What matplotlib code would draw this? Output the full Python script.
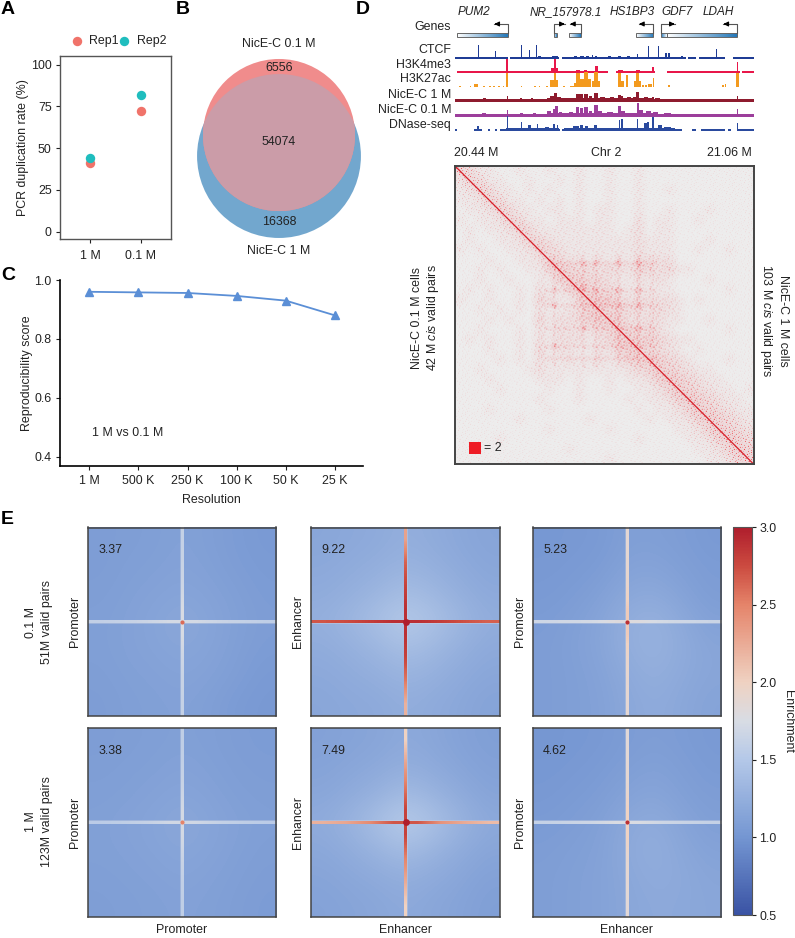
import numpy as np
import matplotlib
matplotlib.use("Agg")
import matplotlib.pyplot as plt
from matplotlib.colors import LinearSegmentedColormap, Normalize
from matplotlib.patches import Circle, Rectangle

plt.rcParams['font.family'] = ['Liberation Sans', 'DejaVu Sans']
plt.rcParams['mathtext.fontset'] = 'custom'
plt.rcParams['mathtext.it'] = 'Liberation Sans:italic'
plt.rcParams['mathtext.rm'] = 'Liberation Sans'

W, H = 795, 938
FS = 8.9
TXT = '#222222'

# panel A
dup_labels = ['1 M', '0.1 M']
rep1 = [41, 72]
rep2 = [44, 82]

# panel B
only_01m = 6556
shared = 54074
only_1m = 16368

# panel C
resolutions = ['1 M', '500 K', '250 K', '100 K', '50 K', '25 K']
repro_score = [0.960, 0.958, 0.956, 0.946, 0.930, 0.880]

# panel D, gene models, kb from 20.44 M
gene_names = ['PUM2', 'NR_157978.1', 'HS1BP3', 'GDF7', 'LDAH']
gene_start = [4, 205, 236, 374, 426, 438]
gene_end = [110, 211, 260, 410, 438, 585]
gene_tss = [110, 205, 260, 410, 426, 585]
gene_tip = [81, 227, 238, 381, 455, 556]
gene_rev = [False, False, False, False, True, False]

# tracks: baseline segments, then bars as position, width, height
ctcf_base = [(0, 110), (113, 215), (222, 478), (483, 500), (505, 560), (575, 620)]
ctcf_pos = [48, 84, 137, 154, 169, 207, 262, 284, 292, 378, 401, 421, 436, 443, 542, 340, 360, 320, 470, 175, 250, 275]
ctcf_w = [2, 2.5, 2.5, 2.5, 2.5, 12, 8, 3, 3, 3, 2.5, 2.5, 4, 4, 3, 6, 6, 6, 6, 6, 6, 6]
ctcf_h = [14, 8, 14, 9, 14, 3, 3, 4, 3, 5, 13, 13, 6, 6, 10, 2.5, 2.5, 2.5, 2.5, 2.5, 2.5, 2.5]

k4_base = [(3, 317), (334, 414), (440, 590), (594, 620)]
k4_pos = [108, 207, 254, 270, 292, 342, 378, 410, 585, 205]
k4_w = [4, 5, 8, 8, 6, 10, 8, 4, 3, 14]
k4_h = [14, 14, 3, 3, 7, 3, 3, 6, 11, 5]

k27_pos = [108, 207, 204, 254, 271, 268, 261, 292, 292, 340, 343, 356, 378, 378, 410, 404, 585,
           43, 10, 32, 60, 72, 80, 90, 100, 137, 165, 175, 190, 225, 240, 245, 390, 395, 443, 555, 560]
k27_w = [4, 5, 16, 9, 10, 26, 30, 7, 18, 7, 12, 5, 5, 14, 2, 9, 5,
         8, 3, 3, 4, 3, 4, 4, 4, 3, 3, 3, 4, 3, 4, 4, 4, 4, 3, 4, 3]
k27_h = [14, 14, 7, 14, 15, 8, 4, 15, 6, 14, 6, 12, 14, 6, 9, 3, 14,
         3.5, 1.5, 1.5, 1.5, 1.5, 1.5, 1.5, 1.5, 1.5, 1.5, 1.5, 1.5, 1.5, 1.5, 1.5, 2, 2, 2, 2, 3]

nice1_pos = [245, 355, 60, 108, 137, 160, 200, 207, 215, 225, 240, 254, 262, 271, 280, 292, 305, 325,
             340, 345, 360, 372, 378, 395, 410, 420, 585]
nice1_w = [110, 110, 6, 3, 4, 4, 8, 6, 8, 6, 6, 8, 6, 8, 6, 8, 10, 10, 6, 6, 10, 6, 5, 8, 4, 10, 3]
nice1_h = [3.5, 3.5, 3.5, 6, 4, 4, 6, 9, 4.5, 4, 4, 8, 8, 8, 6, 9, 5, 5, 7, 6, 5, 5, 10, 5, 5, 4, 5.5]

nice01_pos = [245, 355, 60, 108, 137, 165, 195, 205, 210, 218, 240, 254, 262, 271, 280, 292, 300, 320,
              340, 348, 378, 385, 400, 415, 440, 585]
nice01_w = [110, 110, 8, 3, 6, 6, 8, 5, 5, 8, 8, 7, 6, 8, 6, 7, 8, 12, 6, 8, 4, 8, 10, 10, 16, 3]
nice01_h = [4, 4, 3.5, 7, 3.5, 3.5, 6, 8, 11, 5, 4.5, 10, 9, 10, 6, 12, 6, 5, 11, 6, 14, 7, 6, 4.5, 3.5, 8]

dnase_base = [(0, 3), (38, 55), (68, 72), (82, 86), (92, 218), (222, 470), (490, 500), (510, 560), (566, 572), (585, 620)]
dnase_pos = [160, 340, 48, 108, 137, 154, 170, 190, 205, 212, 250, 262, 272, 290, 340, 345, 378, 395, 400, 410, 425, 440, 585]
dnase_w = [110, 230, 4, 2, 3, 5, 3, 8, 3, 3, 12, 6, 8, 6, 3, 4, 3, 8, 4, 3, 8, 14, 2]
dnase_h = [2.5, 3, 5, 15, 9, 6, 7, 4, 7, 6, 5, 6, 5, 6, 11, 12, 12, 8, 9, 14, 6, 4, 8]

# panel D contact map, red density per block, top left to bottom right
contact_rows = [
    "431100100100100100100000000000",
    "243110010010100100100000000000",
    "124311010100100100100100000000",
    "112431101010100100100000000000",
    "011243110110101100100100010000",
    "101124311011101100201100100000",
    "010112431111111101201100000000",
    "010011243211111111211100010000",
    "101001124321111111211100100100",
    "000100112432212121322200000000",
    "001010011454332322432311000000",
    "001001001145433211212100010000",
    "010100102114543321211100000100",
    "100100103211455532322210100000",
    "001010102112355443323210000000",
    "000101003122345542222110010000",
    "001000102122223454332100000100",
    "010100102122212355443211000000",
    "000100103122112245533210100000",
    "000010102112112124454321000100",
    "001000012111111112345432110000",
    "000100001110100101124543211000",
    "000010000100100100112454321101",
    "000000001000100001011245432110",
    "000100000100000000101124543211",
    "000000100000010000010112454321",
    "000000000100000100000011245432",
    "000010000000000000100001124543",
    "000000000001000000000000112454",
    "000000000000000100000000011244",
]
# grain of the contact map, laid over the density blocks
speckle_tile = [
    "0030000700002000060",
    "5000010000800000300",
    "0002000040000070001",
    "0600009000300100000",
    "0000300000006000040",
    "2000000510000200800",
    "0080000000090000003",
    "0000460000000300000",
    "3000000020700000500",
    "0000900000000040002",
    "0100000380000600000",
    "0000020000000009000",
    "7000000006000100030",
    "0005000100300000000",
    "0000000800000720000",
    "0300600000050000006",
    "0000000040000000100",
    "0009000200008030000",
    "4000100000600000200",
]
anchors_x = [0.335, 0.43, 0.47, 0.55, 0.615, 0.66]
anchors_y = [0.33, 0.42, 0.47, 0.55, 0.61, 0.65]
hot_x = [0.335, 0.335, 0.43, 0.43, 0.47, 0.47, 0.55, 0.55, 0.615, 0.615, 0.615, 0.43, 0.335, 0.55, 0.615]
hot_y = [0.42, 0.47, 0.33, 0.41, 0.33, 0.42, 0.33, 0.42, 0.33, 0.42, 0.47, 0.55, 0.61, 0.47, 0.55]

# panel E pileups, background enrichment on a coarse grid
bg_p01_pp = [[1.08, 1.09, 1.10, 1.12, 1.10, 1.07, 1.05],
             [1.08, 1.10, 1.11, 1.13, 1.11, 1.08, 1.06],
             [1.09, 1.11, 1.13, 1.15, 1.13, 1.10, 1.07],
             [1.10, 1.12, 1.15, 1.18, 1.15, 1.11, 1.08],
             [1.10, 1.12, 1.14, 1.16, 1.14, 1.10, 1.07],
             [1.09, 1.11, 1.12, 1.14, 1.12, 1.09, 1.05],
             [1.08, 1.10, 1.11, 1.12, 1.10, 1.06, 1.04]]
bg_p01_ee = [[1.17, 1.19, 1.21, 1.25, 1.22, 1.18, 1.15],
             [1.19, 1.22, 1.25, 1.30, 1.26, 1.21, 1.17],
             [1.22, 1.26, 1.32, 1.40, 1.34, 1.26, 1.20],
             [1.26, 1.33, 1.42, 1.52, 1.44, 1.33, 1.24],
             [1.22, 1.26, 1.32, 1.40, 1.34, 1.26, 1.20],
             [1.19, 1.22, 1.25, 1.30, 1.26, 1.21, 1.17],
             [1.17, 1.19, 1.20, 1.24, 1.21, 1.18, 1.14]]
bg_p01_pe = [[1.03, 1.04, 1.05, 1.10, 1.10, 1.08, 1.05],
             [1.04, 1.05, 1.07, 1.13, 1.14, 1.10, 1.07],
             [1.05, 1.07, 1.11, 1.18, 1.20, 1.14, 1.08],
             [1.07, 1.10, 1.15, 1.24, 1.28, 1.20, 1.12],
             [1.08, 1.11, 1.15, 1.24, 1.28, 1.22, 1.16],
             [1.08, 1.10, 1.13, 1.20, 1.25, 1.20, 1.16],
             [1.08, 1.10, 1.12, 1.18, 1.22, 1.18, 1.14]]
bg_p1_pp = [[1.08, 1.09, 1.10, 1.11, 1.10, 1.08, 1.07],
            [1.09, 1.10, 1.11, 1.13, 1.11, 1.09, 1.08],
            [1.10, 1.11, 1.13, 1.15, 1.13, 1.10, 1.09],
            [1.11, 1.13, 1.15, 1.18, 1.15, 1.12, 1.10],
            [1.11, 1.12, 1.14, 1.16, 1.14, 1.11, 1.09],
            [1.10, 1.11, 1.12, 1.14, 1.12, 1.10, 1.08],
            [1.09, 1.10, 1.11, 1.12, 1.11, 1.09, 1.07]]
bg_p1_ee = [[1.12, 1.14, 1.16, 1.20, 1.17, 1.13, 1.10],
            [1.14, 1.17, 1.20, 1.25, 1.21, 1.16, 1.12],
            [1.17, 1.22, 1.28, 1.38, 1.30, 1.22, 1.15],
            [1.22, 1.30, 1.42, 1.54, 1.44, 1.30, 1.20],
            [1.18, 1.23, 1.30, 1.38, 1.30, 1.22, 1.16],
            [1.15, 1.18, 1.21, 1.25, 1.21, 1.17, 1.12],
            [1.13, 1.15, 1.17, 1.20, 1.17, 1.14, 1.10]]
bg_p1_pe = [[1.02, 1.03, 1.04, 1.07, 1.09, 1.07, 1.05],
            [1.03, 1.04, 1.06, 1.09, 1.12, 1.09, 1.06],
            [1.04, 1.06, 1.08, 1.13, 1.16, 1.11, 1.08],
            [1.06, 1.08, 1.11, 1.18, 1.22, 1.15, 1.10],
            [1.08, 1.10, 1.12, 1.20, 1.24, 1.18, 1.13],
            [1.09, 1.11, 1.13, 1.18, 1.22, 1.20, 1.16],
            [1.09, 1.11, 1.13, 1.17, 1.20, 1.19, 1.17]]
pile_bg = [bg_p01_pp, bg_p01_ee, bg_p01_pe, bg_p1_pp, bg_p1_ee, bg_p1_pe]
pile_score = ['3.37', '9.22', '5.23', '3.38', '7.49', '4.62']
pile_ylabel = ['Promoter', 'Enhancer', 'Promoter', 'Promoter', 'Enhancer', 'Promoter']
pile_xlabel = ['Promoter', 'Enhancer', 'Enhancer']
# enrichment along the arms: left to right, and top to bottom
arm_h = [[1.60, 1.62, 1.66, 1.72, 1.72, 1.66, 1.62, 1.58],
         [2.70, 2.75, 2.82, 2.90, 2.90, 2.82, 2.72, 2.65],
         [1.68, 1.70, 1.72, 1.80, 1.80, 1.72, 1.68, 1.66],
         [1.55, 1.58, 1.62, 1.70, 1.70, 1.62, 1.58, 1.55],
         [2.20, 2.28, 2.45, 2.70, 2.70, 2.40, 2.25, 2.15],
         [1.62, 1.65, 1.68, 1.76, 1.76, 1.68, 1.65, 1.62]]
arm_v = [[1.62, 1.64, 1.68, 1.75, 1.75, 1.68, 1.64, 1.62],
         [2.30, 2.65, 2.80, 2.90, 2.90, 2.80, 2.55, 2.20],
         [1.88, 1.90, 1.94, 2.05, 2.05, 1.94, 1.90, 1.88],
         [1.58, 1.60, 1.65, 1.72, 1.72, 1.65, 1.60, 1.58],
         [2.00, 2.30, 2.55, 2.80, 2.80, 2.50, 2.25, 2.00],
         [1.85, 1.88, 1.90, 2.00, 2.00, 1.90, 1.88, 1.85]]
pile_center = [2.6, 3.0, 2.9, 2.5, 3.0, 2.9]

enrich_colors = ['#3A53A4', '#7496D2', '#B4C8E8', '#D8DCE4', '#EFD2C2', '#E5846A', '#CC4B40', '#AF1E2D']
enrich_stops = [0.0, 0.2, 0.4, 0.5, 0.6, 0.8, 0.9, 1.0]
cmap_enrich = LinearSegmentedColormap.from_list('enrich', list(zip(enrich_stops, enrich_colors)))
norm_enrich = Normalize(0.5, 3.0)


fig = plt.figure(figsize=(W / 100, H / 100), dpi=100)


def px_axes(left, top, right, bottom):
    return fig.add_axes([left / W, 1 - bottom / H, (right - left) / W, (bottom - top) / H])


def px_text(x, y, s, ha='center', va='center', size=FS, **kw):
    kw.setdefault('color', TXT)
    fig.text(x / W, 1 - y / H, s, ha=ha, va=va, fontsize=size, **kw)


for letter, x, y in [('A', 1, 10), ('B', 176, 10), ('D', 356, 10), ('C', 1, 275), ('E', 1, 520)]:
    px_text(x, y, letter, ha='left', size=14, fontweight='bold', color='black')

# A
ax = px_axes(60, 56, 171, 239)
ax.scatter(range(2), rep1, s=46, color='#F0736A', linewidths=0, label='Rep1', zorder=3)
ax.scatter(range(2), rep2, s=46, color='#1FBDBE', linewidths=0, label='Rep2', zorder=3)
ax.set_xlim(-0.59, 1.59)
ax.set_ylim(-4.4, 105.2)
ax.set_xticks(range(2), dup_labels)
ax.set_yticks([0, 25, 50, 75, 100])
ax.set_ylabel('PCR duplication rate (%)', fontsize=FS, color=TXT, labelpad=1.5)
ax.tick_params(labelsize=FS, length=3, width=0.8, colors=TXT, pad=3)
ax.tick_params(axis='x', pad=5)
for s in ax.spines.values():
    s.set_color('#555555')
    s.set_linewidth(1)
ax.legend(ncol=2, loc='lower center', bbox_to_anchor=(0.52, 1.0), frameon=False, fontsize=FS,
          handletextpad=0.4, columnspacing=-0.12, handlelength=1.2, borderpad=0.2, labelcolor=TXT)

# B, circle area follows set size
ax = px_axes(190, 50, 370, 240)
ax.set_xlim(-288.3, 294.8)
ax.set_ylim(-340, 275.3)
ax.axis('off')
r_01m = np.sqrt(only_01m + shared)
r_1m = np.sqrt(only_1m + shared)
blue = Circle((0, -68), r_1m, color='#72A7CE', lw=0)
ax.add_patch(blue)
ax.add_patch(Circle((0, 0), r_01m, color='#F08C8C', lw=0))
pink = Circle((0, 0), r_01m, color='#CB9CA8', lw=0)
ax.add_patch(pink)
pink.set_clip_path(Circle((0, -68), r_1m, transform=ax.transData))
px_text(279, 44, 'NicE-C 0.1 M')
px_text(279, 68, str(only_01m))
px_text(279, 142, str(shared))
px_text(279, 222, str(only_1m))
px_text(279, 251, 'NicE-C 1 M')

# C
ax = px_axes(60, 280, 363, 465.7)
ax.plot(range(6), repro_score, color='#5B8FD6', lw=1.3, marker='^', ms=6, mfc='#5B8FD6', mec='#5B8FD6')
ax.set_xlim(-0.597, 5.57)
ax.set_ylim(0.3705, 1.0)
ax.set_xticks(range(6), resolutions)
ax.set_yticks([0.4, 0.6, 0.8, 1.0])
ax.set_xlabel('Resolution', fontsize=FS, color=TXT, labelpad=5)
ax.set_ylabel('Reproducibility score', fontsize=FS, color=TXT, labelpad=1)
ax.tick_params(labelsize=FS, length=3, width=0.8, colors=TXT, pad=3)
ax.tick_params(axis='x', pad=4)
ax.spines[['top', 'right']].set_visible(False)
ax.spines[['left', 'bottom']].set_linewidth(1.2)
ax.text(0.105, 0.178, '1 M vs 0.1 M', transform=ax.transAxes, fontsize=FS, color=TXT, va='center')

# D genes
ax = px_axes(455.3, 20, 754.3, 40)
grad = np.linspace(0, 1, 64)[None, :]
cmap_gene = LinearSegmentedColormap.from_list('gene', ['#FFFFFF', '#2176B8'])
for start, end, tss, tip, rev in zip(gene_start, gene_end, gene_tss, gene_tip, gene_rev):
    ax.imshow(grad[:, ::-1] if rev else grad, extent=[start, end, 2.7, 6.7], aspect='auto', cmap=cmap_gene, zorder=2)
    ax.add_patch(Rectangle((start, 2.7), end - start, 4, fill=False, ec='#666666', lw=0.7, zorder=3))
    ax.plot([tss, tss, tip], [6.7, 16, 16], color='#555555', lw=0.8, zorder=3)
    ax.annotate('', xy=(tip, 16), xytext=(tip + (1 if tss > tip else -1) * 5, 16),
                arrowprops=dict(arrowstyle='-|>', color='black', lw=0.8, mutation_scale=7, shrinkA=0, shrinkB=0))
ax.set_xlim(0, 620)
ax.set_ylim(0, 20)
ax.axis('off')
for name, x in zip(gene_names, [458, 530, 610, 661, 703]):
    px_text(x, 12, name, ha='left', style='italic', size=8.5)
px_text(451, 27, 'Genes', ha='right')


def draw_track(bottom, label, label_y, color, base, base_h, pos, width, height):
    t = px_axes(455.3, bottom - 16, 754.3, bottom)
    t.set_xlim(0, 620)
    t.set_ylim(0, 16)
    t.axis('off')
    for a, b in base:
        t.bar((a + b) / 2, base_h, width=b - a, color=color, lw=0)
    t.bar(pos, height, width=width, color=color, lw=0)
    px_text(451, label_y, label, ha='right')


whole = [(0, 620)]
draw_track(59, 'CTCF', 50, '#1F3C95', ctcf_base, 1.8, ctcf_pos, ctcf_w, ctcf_h)
draw_track(73, 'H3K4me3', 65.5, '#E8174A', k4_base, 1.8, k4_pos, k4_w, k4_h)
draw_track(87.5, 'H3K27ac', 79.5, '#F39A1E', [], 0, k27_pos, k27_w, k27_h)
draw_track(102, 'NicE-C 1 M', 95, '#8E1B2E', whole, 2.6, nice1_pos, nice1_w, nice1_h)
draw_track(116.5, 'NicE-C 0.1 M', 110, '#9C3E9B', whole, 2.8, nice01_pos, nice01_w, nice01_h)
draw_track(131, 'DNase-seq', 125, '#2A4A9E', dnase_base, 1.8, dnase_pos, dnase_w, dnase_h)

px_text(454, 153, '20.44 M', ha='left')
px_text(606, 153, 'Chr 2')
px_text(752, 153, '21.06 M', ha='right')

# D contact map
ax = px_axes(455, 166, 753.5, 464)
contact = np.array([[int(c) for c in row] for row in contact_rows], dtype=float)
tile = np.array([[int(c) for c in row] for row in speckle_tile], dtype=float)
n = 298
coarse = (np.arange(30) + 0.5) / 30
fine_pos = (np.arange(n) + 0.5) / n
fine = np.array([np.interp(fine_pos, coarse, row) for row in contact])
fine = np.array([np.interp(fine_pos, coarse, col) for col in fine.T]).T
for a in anchors_x:
    fine[int(0.30 * n):int(0.68 * n), int(a * n) - 2:int(a * n) + 2] += 1.0
for a in anchors_y:
    fine[int(a * n) - 2:int(a * n) + 2, int(0.30 * n):int(0.68 * n)] += 1.0
for hx, hy in zip(hot_x, hot_y):
    fine[int(hy * n) - 3:int(hy * n) + 3, int(hx * n) - 3:int(hx * n) + 3] += 2.5
grain = np.tile(tile, (n // 19 + 1, n // 19 + 1))[:n, :n] / 9
shade = (fine * 0.65 + 0.45) / 4.5 * grain + fine * 0.022
cmap_contact = LinearSegmentedColormap.from_list('contact', ['#EDEDED', '#EE1C25'])
ax.imshow(shade, extent=[0, 1, 1, 0], aspect='auto', cmap=cmap_contact, vmin=0, vmax=1, interpolation='bilinear')
ax.plot([0, 1], [0, 1], color='#D81E28', lw=0.9)
ax.set_xlim(0, 1)
ax.set_ylim(1, 0)
ax.set_xticks([])
ax.set_yticks([])
for s in ax.spines.values():
    s.set_color('#444444')
    s.set_linewidth(1.4)
ax.add_patch(Rectangle((0.047, 0.927), 0.039, 0.039, color='#EE1C25', lw=0))
px_text(484, 448, '= 2', ha='left')
px_text(426, 318, 'NicE-C 0.1 M cells\n42 M $\\it{cis}$ valid pairs', rotation=90, linespacing=1.25)
px_text(773.5, 321, 'NicE-C 1 M cells\n103 M $\\it{cis}$ valid pairs', rotation=270, linespacing=1.25)

# E
lefts = [87.7, 311.3, 532.7]
tops = [527.5, 728.3]
for i, bg in enumerate(pile_bg):
    left = lefts[i % 3]
    top = tops[i // 3]
    ax = px_axes(left, top, left + 188.5, top + 188.3)
    ax.imshow(bg, extent=[-1, 1, -1, 1], cmap=cmap_enrich, norm=norm_enrich, aspect='auto', interpolation='bicubic')
    h = np.array(arm_h[i])[None, :]
    v = np.array(arm_v[i])[:, None]
    # pale halo under the stripes, then the stripes
    ax.imshow(np.full_like(h, 1.75), extent=[-1, 1, -0.021, 0.021], cmap=cmap_enrich, norm=norm_enrich, aspect='auto', alpha=0.35)
    ax.imshow(np.full_like(v, 1.75), extent=[-0.021, 0.021, -1, 1], cmap=cmap_enrich, norm=norm_enrich, aspect='auto', alpha=0.35)
    ax.imshow(h, extent=[-1, 1, -0.012, 0.012], cmap=cmap_enrich, norm=norm_enrich, aspect='auto', interpolation='bilinear')
    ax.imshow(v, extent=[-0.012, 0.012, -1, 1], cmap=cmap_enrich, norm=norm_enrich, aspect='auto', interpolation='bilinear')
    ax.scatter([0], [0], s=9 if i % 3 != 1 else 24, c=[pile_center[i]], cmap=cmap_enrich, norm=norm_enrich, lw=0, zorder=4)
    ax.set_xlim(-1, 1)
    ax.set_ylim(-1, 1)
    ax.set_xticks([])
    ax.set_yticks([])
    for s in ax.spines.values():
        s.set_color('#444444')
        s.set_linewidth(1.1)
    ax.text(0.055, 0.88, pile_score[i], transform=ax.transAxes, fontsize=FS, color=TXT, va='center')
    px_text(left - 13, top + 94, pile_ylabel[i], rotation=90)
    if i >= 3:
        px_text(left + 94, 930, pile_xlabel[i % 3])

px_text(39, 622, '0.1 M\n51M valid pairs', rotation=90, linespacing=1.45)
px_text(39, 822, '1 M\n123M valid pairs', rotation=90, linespacing=1.45)

cax = px_axes(733.3, 527, 752.3, 915)
sm = plt.cm.ScalarMappable(norm=norm_enrich, cmap=cmap_enrich)
cb = fig.colorbar(sm, cax=cax, ticks=[0.5, 1.0, 1.5, 2.0, 2.5, 3.0])
cb.ax.tick_params(labelsize=FS, length=3, width=0.8, colors=TXT, pad=2)
cb.outline.set_edgecolor('#555555')
cb.outline.set_linewidth(0.8)
px_text(788, 721, 'Enrichment', rotation=270)

fig.savefig('out.png', dpi=100)
